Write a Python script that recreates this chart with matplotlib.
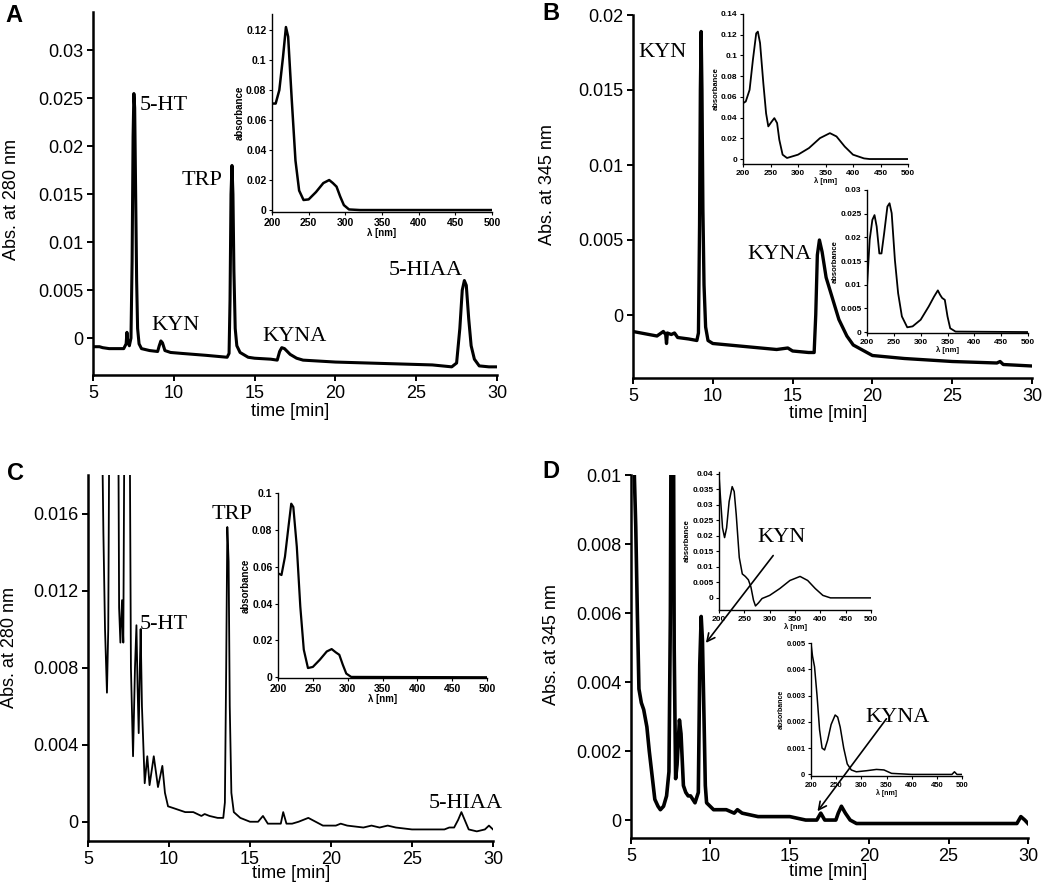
import matplotlib
matplotlib.use("Agg")
import matplotlib.pyplot as plt
from matplotlib.ticker import FuncFormatter, MultipleLocator

plt.rcParams['font.family'] = ['Liberation Sans', 'DejaVu Sans']

# ---------------- data ----------------
# Panel A chromatogram (280 nm)
a_time = [5.0, 5.4, 5.6, 6.0, 6.9, 7.05, 7.10, 7.15, 7.25, 7.35, 7.42, 7.48, 7.53, 7.58, 7.64, 7.70,
          7.76, 7.85, 8.0, 8.5, 9.0, 9.1, 9.2, 9.3, 9.45, 9.8, 10.5, 12.0, 13.3, 13.42, 13.48, 13.54,
          13.60, 13.66, 13.72, 13.80, 13.90, 14.1, 14.6, 15.0, 16.0, 16.4, 16.55, 16.68, 16.85, 17.2,
          17.6, 18.0, 19.0, 20.0, 22.0, 24.0, 26.0, 27.2, 27.5, 27.7, 27.85, 27.98, 28.1, 28.25, 28.4,
          28.6, 28.9, 29.5, 30.0]
a_abs = [-0.0009, -0.0009, -0.0010, -0.0011, -0.0011, -0.0006, 0.0006, -0.0004, -0.0008, 0.0000,
         0.0080, 0.0210, 0.0255, 0.0240, 0.0150, 0.0060, 0.0010, -0.0006, -0.0011, -0.0013, -0.0014,
         -0.0008, -0.0003, -0.0005, -0.0013, -0.0015, -0.0016, -0.0018, -0.0020, -0.0016, 0.0040,
         0.0150, 0.0180, 0.0150, 0.0070, 0.0010, -0.0008, -0.0015, -0.0020, -0.0021, -0.0022, -0.0023,
         -0.0014, -0.0010, -0.0011, -0.0017, -0.0021, -0.0023, -0.0024, -0.0025, -0.0026, -0.0027,
         -0.0028, -0.0030, -0.0026, 0.0010, 0.0050, 0.0060, 0.0055, 0.0020, -0.0008, -0.0022, -0.0029,
         -0.0030, -0.0030]

# Panel B chromatogram (345 nm)
b_time = [5.0, 5.5, 6.5, 6.9, 7.05, 7.1, 7.15, 7.4, 7.6, 7.8, 8.5, 9.0, 9.1, 9.17, 9.22, 9.27, 9.32,
          9.38, 9.45, 9.55, 9.7, 10.0, 12.0, 14.0, 14.7, 15.0, 16.0, 16.35, 16.45, 16.55, 16.68, 16.85,
          17.1, 17.5, 17.9, 18.4, 18.8, 20.0, 22.0, 25.0, 27.8, 28.0, 28.2, 30.0]
b_abs = [-0.0011, -0.0012, -0.0014, -0.0011, -0.0013, -0.0019, -0.0012, -0.0013, -0.0012, -0.0015,
         -0.0016, -0.0017, -0.0012, 0.0060, 0.0150, 0.0189, 0.0150, 0.0070, 0.0020, -0.0008, -0.0017,
         -0.0019, -0.0021, -0.0023, -0.0022, -0.0024, -0.0025, -0.0025, 0.0000, 0.0040, 0.0050, 0.0042,
         0.0025, 0.0011, -0.0003, -0.0014, -0.0020, -0.0027, -0.0029, -0.0031, -0.0032, -0.0031,
         -0.0033, -0.0034]

# Panel C chromatogram (280 nm)
c_time = [5.8, 5.95, 6.05, 6.17, 6.25, 6.34, 6.85, 6.92, 7.0, 7.1, 7.18, 7.27, 7.55, 7.65, 7.78, 7.90,
          7.99, 8.06, 8.13, 8.20, 8.25, 8.33, 8.5, 8.66, 8.8, 9.06, 9.32, 9.59, 9.75, 9.94, 10.3, 11.0,
          11.5, 12.0, 12.2, 12.5, 13.0, 13.35, 13.45, 13.53, 13.6, 13.68, 13.75, 13.85, 14.0, 14.4, 15.0,
          15.5, 15.8, 16.1, 16.9, 17.05, 17.25, 17.6, 18.0, 18.6, 19.5, 20.3, 20.6, 21.0, 22.0, 22.5,
          23.0, 23.5, 24.0, 25.0, 26.0, 27.0, 27.3, 27.6, 27.85, 28.05, 28.25, 28.5, 29.0, 29.5, 29.75,
          30.0]
c_abs = [0.025, 0.0150, 0.0100, 0.0067, 0.0100, 0.025, 0.025, 0.0111, 0.0093, 0.0115, 0.0093, 0.025,
         0.025, 0.0080, 0.0034, 0.0080, 0.0102, 0.0070, 0.0046, 0.0080, 0.0100, 0.0060, 0.0020, 0.0034,
         0.0019, 0.0034, 0.0018, 0.0029, 0.0015, 0.0008, 0.0007, 0.0005, 0.0005, 0.0003, 0.0004, 0.0003,
         0.0002, 0.0002, 0.0010, 0.0080, 0.0153, 0.0135, 0.0060, 0.0015, 0.0005, 0.0002, 0.0000, 0.0000,
         0.0003, -0.0001, -0.0001, 0.0005, -0.0001, -0.0001, 0.0000, 0.0002, -0.0002, -0.0002, -0.0001,
         -0.0002, -0.0003, -0.0002, -0.0003, -0.0002, -0.0003, -0.0004, -0.0004, -0.0004, -0.0003,
         -0.0003, 0.0001, 0.0005, 0.0001, -0.0004, -0.0005, -0.0004, -0.0002, -0.0004]

# Panel D chromatogram (345 nm)
d_time = [5.05, 5.15, 5.3, 5.4, 5.5, 5.65, 5.8, 6.0, 6.15, 6.3, 6.5, 6.7, 6.85, 7.05, 7.24, 7.39, 7.48,
          7.55, 7.65, 7.72, 7.81, 7.9, 8.05, 8.15, 8.3, 8.45, 8.6, 8.75, 9.03, 9.24, 9.33, 9.42, 9.5, 9.6,
          9.68, 9.76, 10.2, 11.0, 11.5, 11.7, 12.0, 13.0, 14.0, 15.0, 16.0, 16.7, 16.95, 17.2, 17.9,
          18.05, 18.25, 18.5, 18.8, 19.2, 20.0, 22.0, 24.0, 26.0, 28.0, 29.3, 29.55, 29.8, 30.0]
d_abs = [0.0150, 0.0110, 0.0085, 0.0060, 0.0038, 0.0034, 0.0032, 0.0027, 0.0020, 0.0014, 0.0006,
         0.0004, 0.0003, 0.0004, 0.0007, 0.0014, 0.0060, 0.0150, 0.0150, 0.0050, 0.0012, 0.0016, 0.0029,
         0.0025, 0.0010, 0.0008, 0.0007, 0.0007, 0.0005, 0.0008, 0.0045, 0.0059, 0.0052, 0.0029, 0.0010,
         0.0005, 0.0003, 0.0003, 0.0002, 0.0003, 0.0002, 0.0001, 0.0001, 0.0001, 0.0000, 0.0000, 0.0002,
         0.0000, 0.0000, 0.0002, 0.0004, 0.0002, 0.0000, -0.0001, -0.0001, -0.0001, -0.0001, -0.0001,
         -0.0001, -0.0001, 0.0001, 0.0000, -0.0001]

# UV spectra (insets)
sa_wl = [200, 205, 210, 215, 219, 222, 227, 232, 237, 243, 250, 260, 270, 278, 283, 288, 293, 298, 305, 320, 500]
sa_ab = [0.071, 0.071, 0.080, 0.102, 0.122, 0.1156, 0.073, 0.033, 0.013, 0.0067, 0.0071, 0.012, 0.018,
         0.020, 0.018, 0.0156, 0.009, 0.0033, 0.0004, 0.0, 0.0]

sb1_wl = [200, 205, 212, 218, 224, 227, 231, 237, 242, 246, 252, 257, 262, 266, 272, 280, 300, 320, 340,
          358, 370, 385, 400, 420, 430, 500]
sb1_ab = [0.0539, 0.0555, 0.0668, 0.0957, 0.1213, 0.123, 0.112, 0.073, 0.044, 0.0315, 0.036, 0.0395,
          0.0347, 0.0186, 0.0042, 0.001, 0.0042, 0.0106, 0.0202, 0.025, 0.0218, 0.012, 0.0042, 0.0006,
          0.0, 0.0]

sb2_wl = [200, 205, 210, 214, 218, 223, 227, 232, 238, 242, 246, 252, 258, 265, 275, 285, 300, 315, 325,
          332, 336, 340, 345, 350, 355, 365, 500]
sb2_ab = [0.0096, 0.0195, 0.0237, 0.0247, 0.0223, 0.0166, 0.0166, 0.0209, 0.0265, 0.0272, 0.0251, 0.0152,
          0.0082, 0.0033, 0.0010, 0.0012, 0.0026, 0.0054, 0.0075, 0.0088, 0.0079, 0.0072, 0.0068, 0.0033,
          0.0008, 0.0001, 0.0]

sc_wl = [200, 205, 210, 215, 219, 222, 227, 232, 237, 243, 250, 260, 270, 277, 283, 288, 293, 298, 305, 500]
sc_ab = [0.0564, 0.0555, 0.0654, 0.0816, 0.0942, 0.0924, 0.0708, 0.0384, 0.015, 0.005, 0.0056, 0.0095,
         0.014, 0.0153, 0.0135, 0.0122, 0.0068, 0.002, 0.0002, 0.0]

sd1_wl = [200, 203, 207, 211, 215, 220, 226, 230, 234, 240, 246, 252, 258, 263, 268, 272, 278, 285, 300,
          320, 340, 360, 375, 390, 405, 420, 500]
sd1_ab = [0.0395, 0.032, 0.0225, 0.0194, 0.0225, 0.031, 0.0358, 0.0342, 0.0268, 0.013, 0.0077, 0.0069,
          0.0058, 0.0035, -0.0007, -0.0026, -0.0016, -0.0002, 0.0008, 0.003, 0.0056, 0.0069, 0.0056,
          0.003, 0.0008, 0.0, 0.0]

sd2_wl = [200, 203, 207, 212, 217, 222, 227, 233, 240, 248, 253, 258, 265, 272, 280, 290, 310, 330, 345,
          360, 400, 480, 485, 490, 500]
sd2_ab = [0.00497, 0.0045, 0.0041, 0.0030, 0.0017, 0.0010, 0.00093, 0.0013, 0.0019, 0.00226, 0.00218,
          0.0018, 0.0010, 0.0004, 0.00017, 0.0001, 0.00014, 0.00019, 0.00017, 0.00004, 0.0, 0.0, 0.0001,
          0.0, 0.0]

# ---------------- drawing ----------------
W, H = 1050, 889
fig = plt.figure(figsize=(W / 100, H / 100), dpi=100)


def rect(l, t, r, b):
    return [l / W, 1 - b / H, (r - l) / W, (b - t) / H]


fmt = FuncFormatter(lambda v, p: '%g' % round(v, 6))
SERIF = ['Liberation Serif', 'DejaVu Serif']


def main_axes(box, t, v, ylim, ystep, lw):
    ax = fig.add_axes(rect(*box))
    ax.plot(t, v, color='black', lw=lw, solid_joinstyle='round')
    ax.set_xlim(5, 30)
    ax.set_ylim(*ylim)
    ax.xaxis.set_major_locator(MultipleLocator(5))
    ax.yaxis.set_major_locator(MultipleLocator(ystep))
    ax.yaxis.set_major_formatter(fmt)
    for s in ('top', 'right'):
        ax.spines[s].set_visible(False)
    for s in ('left', 'bottom'):
        ax.spines[s].set_linewidth(1.8)
    ax.tick_params(direction='out', length=4, width=1.4, labelsize=13, pad=3)
    ax.patch.set_alpha(0)
    return ax


def inset(box, wl, ab, ylim, ystep, fs, lw):
    ax = fig.add_axes(rect(*box))
    ax.plot(wl, ab, color='black', lw=lw)
    ax.set_xlim(200, 500)
    ax.set_ylim(*ylim)
    ax.xaxis.set_major_locator(MultipleLocator(50))
    ax.yaxis.set_major_locator(MultipleLocator(ystep))
    ax.yaxis.set_major_formatter(fmt)
    for s in ('top', 'right'):
        ax.spines[s].set_visible(False)
    for s in ('left', 'bottom'):
        ax.spines[s].set_linewidth(1.0)
    ax.tick_params(direction='out', length=2.5, width=0.8, labelsize=fs, pad=1.5)
    for lab in ax.get_xticklabels() + ax.get_yticklabels():
        lab.set_fontweight('bold')
    ax.set_ylabel('absorbance', fontsize=fs - 0.5, fontweight='bold', labelpad=1)
    ax.set_xlabel('λ [nm]', fontsize=fs - 0.5, fontweight='bold', labelpad=0.5)
    ax.patch.set_alpha(0)
    return ax


axA = main_axes((93, 12, 497, 375), a_time, a_abs, (-0.00385, 0.034), 0.005, 2.2)
axB = main_axes((633, 15, 1032, 378), b_time, b_abs, (-0.0042, 0.02), 0.005, 2.4)
axC = main_axes((88, 475, 493, 841), c_time, c_abs, (-0.001, 0.018), 0.004, 1.3)
axD = main_axes((631, 475, 1028, 838), d_time, d_abs, (-0.00052, 0.01), 0.002, 2.6)

# peak labels
lab_kw = dict(family=SERIF, fontsize=16, ha='left', va='baseline')
axA.text(7.9, 0.0238, '5-HT', **lab_kw)
axA.text(8.64, 0.0008, 'KYN', **lab_kw)
axA.text(10.5, 0.0160, 'TRP', **lab_kw)
axA.text(15.5, -0.00034, 'KYNA', **lab_kw)
axA.text(23.27, 0.00653, '5-HIAA', **lab_kw)
axB.text(5.36, 0.0172, 'KYN', **lab_kw)
axB.text(12.16, 0.00371, 'KYNA', **lab_kw)
axC.text(12.62, 0.01573, 'TRP', **lab_kw)
axC.text(8.19, 0.0100, '5-HT', **lab_kw)
axC.text(26.05, 0.0007, '5-HIAA', **lab_kw)
axD.text(12.95, 0.00807, 'KYN', **lab_kw)
axD.text(19.77, 0.00285, 'KYNA', **lab_kw)

# axis titles
for x, y, s in [(12, 199, 'Abs. at 280 nm'), (547, 185, 'Abs. at 345 nm'),
                (10, 647, 'Abs. at 280 nm'), (552, 645, 'Abs. at 345 nm')]:
    fig.text(x / W, 1 - y / H, s, rotation=90, ha='center', va='center', fontsize=13)
for x, y in [(290, 412), (828, 413), (291, 874), (828, 872)]:
    fig.text(x / W, 1 - y / H, 'time [min]', ha='center', va='center', fontsize=13)

# panel letters
for x, y, s in [(14, 15, 'A'), (551, 14, 'B'), (15, 473, 'C'), (551, 472, 'D')]:
    fig.text(x / W, 1 - y / H, s, ha='center', va='center', fontsize=17, fontweight='bold')

# insets
inset((272, 14, 492, 212), sa_wl, sa_ab, (-0.0013, 0.1307), 0.02, 7.5, 1.8)
inset((743, 14, 908, 164), sb1_wl, sb1_ab, (-0.0048, 0.14), 0.02, 6, 1.3)
inset((867, 190, 1028, 333), sb2_wl, sb2_ab, (-0.0002, 0.03), 0.005, 6, 1.3)
inset((278, 493, 487, 678), sc_wl, sc_ab, (-0.0004, 0.1), 0.02, 7.5, 1.6)
inset((719, 472, 871, 610), sd1_wl, sd1_ab, (-0.0039, 0.0405), 0.005, 6, 1.1)
inset((811, 643, 962, 776), sd2_wl, sd2_ab, (-0.00006, 0.005), 0.001, 5.5, 1.1)

# arrows in D
arr = dict(arrowstyle='->', color='black', lw=1.2, mutation_scale=14)
axD.annotate('', xy=(9.61, 0.00507), xytext=(14.06, 0.00773), arrowprops=arr, annotation_clip=False, zorder=10)
axD.annotate('', xy=(16.64, 0.00019), xytext=(21.19, 0.0030), arrowprops=arr, annotation_clip=False, zorder=10)

fig.savefig('out.png', dpi=100, facecolor='white')
